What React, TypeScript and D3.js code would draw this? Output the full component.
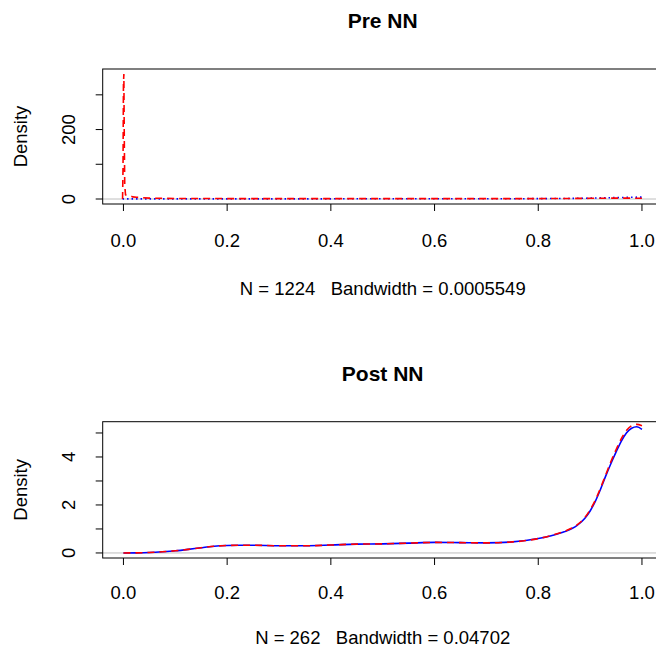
import React from 'react';
import * as d3 from 'd3';

// x grid + densities
const preX = [-0.0017, -0.0008, 0, 0.0008, 0.0016, 0.0025, 0.004, 0.006, 0.009, 0.013, 0.018, 0.025, 0.035, 0.05, 0.1, 0.2, 0.3, 0.4, 0.5, 0.6, 0.7, 0.8, 0.85, 0.9, 0.95, 0.98, 1.0];
const preRed = [0, 90, 330, 360, 180, 40, 12, 10, 10, 9, 6, 5, 4, 2.5, 1.5, 1.2, 1, 1, 1, 1, 1, 1.2, 1.5, 2, 2.5, 2.5, 2];
const preBlue = [0, 0.1, 0.3, 0.4, 0.4, 0.4, 0.4, 0.4, 0.4, 0.4, 0.4, 0.4, 0.4, 0.4, 0.5, 0.5, 0.5, 0.5, 0.6, 0.6, 0.7, 1, 1.5, 2.5, 4, 5, 5.5];

const postX = [0, 0.025, 0.05, 0.075, 0.1, 0.125, 0.15, 0.175, 0.2, 0.225, 0.25, 0.3, 0.35, 0.4, 0.45, 0.5, 0.55, 0.6, 0.65, 0.7, 0.75, 0.8, 0.825, 0.85, 0.875, 0.89, 0.9, 0.91, 0.92, 0.93, 0.94, 0.95, 0.96, 0.97, 0.98, 0.99, 1.0];
const postBlue = [0, 0.005, 0.02, 0.05, 0.09, 0.15, 0.22, 0.28, 0.31, 0.32, 0.32, 0.3, 0.3, 0.33, 0.37, 0.38, 0.41, 0.44, 0.43, 0.42, 0.46, 0.6, 0.72, 0.88, 1.15, 1.45, 1.75, 2.15, 2.65, 3.2, 3.72, 4.2, 4.65, 5.0, 5.2, 5.26, 5.15];
const postRed = [0, 0.005, 0.02, 0.05, 0.09, 0.15, 0.22, 0.28, 0.31, 0.32, 0.32, 0.3, 0.3, 0.33, 0.37, 0.38, 0.41, 0.44, 0.43, 0.42, 0.46, 0.6, 0.73, 0.9, 1.17, 1.48, 1.8, 2.2, 2.7, 3.25, 3.8, 4.3, 4.75, 5.1, 5.3, 5.36, 5.3];

const xTicks = [0, 0.2, 0.4, 0.6, 0.8, 1.0];
const preYTicks = [0, 100, 200, 300];
const preYLabels = [0, 200];
const postYTicks = [0, 1, 2, 3, 4, 5];
const postYLabels = [0, 2, 4];

const FONT = 'Liberation Sans, Arial, Helvetica, sans-serif';

type Series = { y: number[]; color: string; dash: string };

const Panel = (props: any) => {
  const { top, bottom, title, sub, xs, series, yDomain, yTicks, yLabels, smooth, labOff, subOff } = props;
  const left = 102.7;
  const right = 662.7;
  const x = d3.scaleLinear().domain([-0.04, 1.04]).range([left, right]);
  const y = d3.scaleLinear().domain(yDomain).range([bottom, top]);
  const line = d3.line<number>()
    .x((d, i) => x(xs[i]))
    .y(d => y(d))
    .curve(smooth ? d3.curveMonotoneX : d3.curveLinear);
  const midY = (top + bottom) / 2;
  const clipId = `clip-${Math.round(top)}`;

  return (
    <g>
      <defs>
        <clipPath id={clipId}>
          <rect x={left} y={top} width={right - left} height={bottom - top} />
        </clipPath>
      </defs>
      <text x={(left + right) / 2} y={top - 41} textAnchor="middle" fontWeight="bold" fontSize={21} fontFamily={FONT}>{title}</text>
      {/* zero line */}
      <line x1={left} x2={right} y1={y(0)} y2={y(0)} stroke="#bebebe" strokeWidth={1} />
      <g clipPath={`url(#${clipId})`}>
        {series.map((s: Series, i: number) => (
          <path key={i} d={line(s.y) || ''} fill="none" stroke={s.color} strokeWidth={1.6} strokeDasharray={s.dash} />
        ))}
      </g>
      <rect x={left} y={top} width={right - left} height={bottom - top} fill="none" stroke="#000" strokeWidth={1} />
      {/* x axis */}
      {xTicks.map(t => (
        <g key={t}>
          <line x1={x(t)} x2={x(t)} y1={bottom} y2={bottom + 7} stroke="#000" />
          <text x={x(t)} y={bottom + labOff} textAnchor="middle" fontSize={18.5} fontFamily={FONT}>{t.toFixed(1)}</text>
        </g>
      ))}
      {/* y axis */}
      {yTicks.map((t: number) => (
        <line key={t} x1={left - 7} x2={left} y1={y(t)} y2={y(t)} stroke="#000" />
      ))}
      {yLabels.map((t: number) => (
        <text key={t} transform={`translate(${left - 28},${y(t)}) rotate(-90)`} textAnchor="middle" fontSize={18.5} fontFamily={FONT}>{t}</text>
      ))}
      <text transform={`translate(27,${midY}) rotate(-90)`} textAnchor="middle" fontSize={18.5} fontFamily={FONT}>Density</text>
      <text x={(left + right) / 2} y={bottom + subOff} textAnchor="middle" fontSize={18.5} fontFamily={FONT} style={{ whiteSpace: 'pre' }}>{sub}</text>
    </g>
  );
};

export default function App() {
  return (
    <svg width={656} height={650} style={{ position: 'absolute', left: 0, top: 0, background: '#fff' }}>
      <rect width={656} height={650} fill="#fff" />
      <Panel
        top={69}
        bottom={204}
        title="Pre NN"
        sub="N = 1224   Bandwidth = 0.0005549"
        xs={preX}
        yDomain={[-14.4, 374.4]}
        yTicks={preYTicks}
        yLabels={preYLabels}
        smooth={false}
        labOff={43}
        subOff={91}
        series={[
          { y: preBlue, color: '#0000ff', dash: '1.5,3' },
          { y: preRed, color: '#ff0000', dash: '7,5' },
        ]}
      />
      <Panel
        top={421.7}
        bottom={558}
        title="Post NN"
        sub="N = 262   Bandwidth = 0.04702"
        xs={postX}
        yDomain={[-0.21, 5.47]}
        yTicks={postYTicks}
        yLabels={postYLabels}
        smooth={true}
        labOff={41}
        subOff={86}
        series={[
          { y: postBlue, color: '#0000ff', dash: 'none' },
          { y: postRed, color: '#ff0000', dash: '7,5' },
        ]}
      />
    </svg>
  );
}
